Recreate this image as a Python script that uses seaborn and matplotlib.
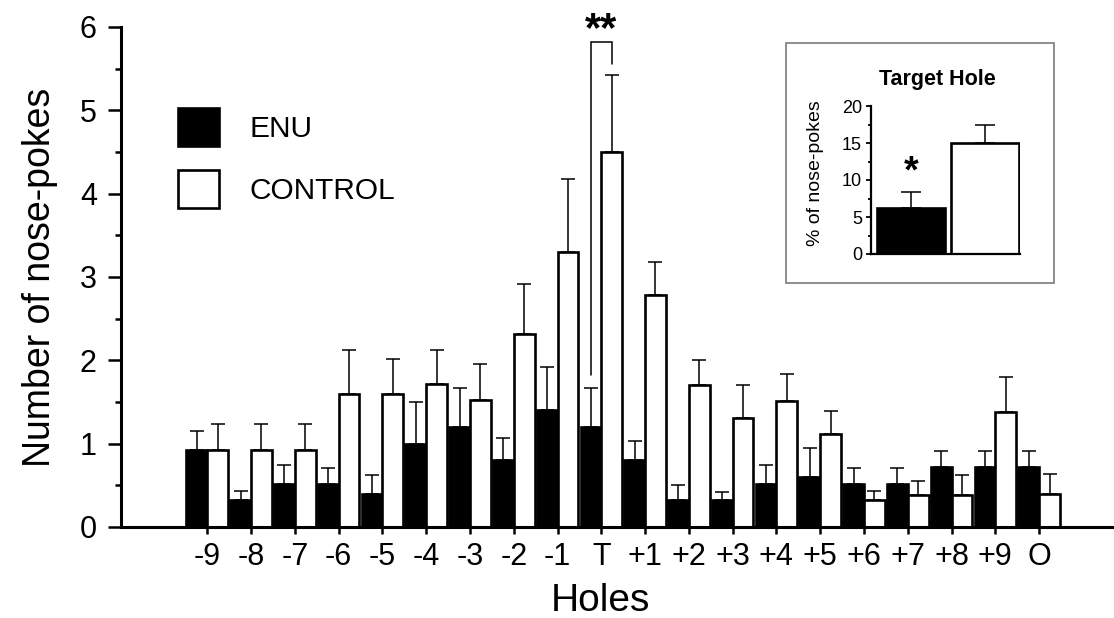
import numpy as np
import pandas as pd
import matplotlib
matplotlib.use("Agg")
import matplotlib.pyplot as plt
from matplotlib.patches import Patch, Rectangle
from matplotlib.ticker import MultipleLocator
import seaborn as sns

# ---------------- data ----------------
holes = ["-9", "-8", "-7", "-6", "-5", "-4", "-3", "-2", "-1", "T",
         "+1", "+2", "+3", "+4", "+5", "+6", "+7", "+8", "+9", "O"]
enu_mean = [0.92, 0.32, 0.52, 0.52, 0.40, 1.00, 1.20, 0.80, 1.40, 1.20,
            0.80, 0.32, 0.32, 0.52, 0.60, 0.52, 0.52, 0.72, 0.72, 0.72]
enu_sem = [0.23, 0.11, 0.22, 0.19, 0.22, 0.50, 0.47, 0.27, 0.52, 0.47,
           0.23, 0.18, 0.10, 0.22, 0.35, 0.19, 0.19, 0.19, 0.19, 0.19]
ctrl_mean = [0.92, 0.92, 0.92, 1.60, 1.60, 1.72, 1.52, 2.32, 3.30, 4.50,
             2.79, 1.71, 1.31, 1.51, 1.12, 0.32, 0.38, 0.38, 1.38, 0.40]
ctrl_sem = [0.32, 0.32, 0.32, 0.52, 0.42, 0.40, 0.44, 0.60, 0.88, 0.92,
            0.39, 0.29, 0.40, 0.33, 0.27, 0.11, 0.17, 0.24, 0.42, 0.24]
groups = ["ENU", "CONTROL"]

inset_mean = [6.2, 15.0]
inset_sem = [2.2, 2.5]

df = pd.DataFrame({
    "hole": holes * 2,
    "group": ["ENU"] * len(holes) + ["CONTROL"] * len(holes),
    "value": enu_mean + ctrl_mean,
})
df_in = pd.DataFrame({"group": groups, "value": inset_mean})

# ---------------- style ----------------
sns.set_theme(style="ticks")
plt.rcParams["font.family"] = ["Liberation Sans", "DejaVu Sans"]
plt.rcParams["text.color"] = "black"
plt.rcParams["axes.labelcolor"] = "black"
plt.rcParams["axes.linewidth"] = 2.0
palette = {"ENU": "black", "CONTROL": "white"}

fig = plt.figure(figsize=(11.14, 6.18), dpi=100)
W, H = 1114, 618
ax = fig.add_axes([121 / W, 1 - 527 / H, 1 - 121 / W, (527 - 27) / H])

sns.barplot(data=df, x="hole", y="value", hue="group", order=holes,
            hue_order=groups, palette=palette, edgecolor="black",
            linewidth=1.9, width=0.95, errorbar=None, legend=False, ax=ax)

centers = {}
for cont, sems, g in zip(ax.containers, [enu_sem, ctrl_sem], groups):
    xs = [b.get_x() + b.get_width() / 2 for b in cont]
    ys = [b.get_height() for b in cont]
    centers[g] = xs
    ax.errorbar(xs, ys, yerr=[np.zeros(len(sems)), sems], fmt="none",
                ecolor="black", elinewidth=1.1, capsize=4.7, capthick=1.1,
                zorder=1)

ax.set_xlim(-1.97, 20.71)
ax.set_ylim(0, 6)
ax.yaxis.set_major_locator(MultipleLocator(1))
ax.yaxis.set_minor_locator(MultipleLocator(0.5))
ax.tick_params(axis="y", which="major", length=9.4, width=1.8,
               labelsize=22, pad=8, direction="out", colors="black")
ax.tick_params(axis="y", which="minor", length=4.3, width=1.8,
               direction="out", colors="black")
ax.tick_params(axis="x", which="major", length=5, width=1.8,
               labelsize=22, pad=6, direction="out", colors="black")
for s in ["top", "right"]:
    ax.spines[s].set_visible(False)
for s in ["left", "bottom"]:
    ax.spines[s].set_linewidth(2.2)
    ax.spines[s].set_color("black")

ax.set_xlabel("Holes", fontsize=28, color="black")
ax.set_ylabel("Number of nose-pokes", fontsize=27, color="black")
ax.xaxis.set_label_coords((600 - 121) / 993, -(601 - 527) / 500)
ax.xaxis.label.set_va("center")
ax.yaxis.set_label_coords(-(121 - 40) / 993, 0.5)
ax.yaxis.label.set_va("center")

# significance bracket at target hole
ti = holes.index("T")
xl, xr = centers["ENU"][ti], centers["CONTROL"][ti]
ax.plot([xl, xl, xr, xr], [1.82, 5.82, 5.82, 5.56], color="black",
        lw=1.1, clip_on=False, solid_joinstyle="miter")
ax.text((xl + xr) / 2, 5.96, "**", ha="center", va="center",
        fontsize=30, fontweight="bold", color="black")

# legend
handles = [Patch(facecolor=palette[g], edgecolor="black", linewidth=1.9,
                 label=g) for g in groups]
ax.legend(handles=handles, loc="upper left",
          bbox_to_anchor=(178 / W, 1 - 108 / H),
          bbox_transform=fig.transFigure, frameon=False, fontsize=21.5,
          labelcolor="black",
          handlelength=1.36, handleheight=1.58, labelspacing=0.82,
          handletextpad=1.05, borderpad=0, borderaxespad=0)

# ---------------- inset ----------------
fig.patches.append(Rectangle((786 / W, 1 - 283 / H), (1054 - 786) / W,
                             (283 - 43) / H, transform=fig.transFigure,
                             fill=False, edgecolor="#7a7a7a", lw=1.2))
axi = fig.add_axes([871 / W, 1 - 254 / H, (1020 - 871) / W, (254 - 106) / H])
sns.barplot(data=df_in, x="group", y="value", hue="group", order=groups,
            hue_order=groups, palette=palette, edgecolor="black",
            linewidth=1.9, width=0.92, errorbar=None, legend=False, ax=axi)
ic = []
for cont, s in zip(axi.containers, inset_sem):
    for b in cont:
        xc = b.get_x() + b.get_width() / 2
        ic.append(xc)
        axi.errorbar([xc], [b.get_height()], yerr=[[0], [s]], fmt="none",
                     ecolor="black", elinewidth=1.1, capsize=7.5,
                     capthick=1.1, zorder=1)
axi.set_xlim(-0.54, 1.47)
axi.set_ylim(0, 20)
axi.yaxis.set_major_locator(MultipleLocator(5))
axi.yaxis.set_minor_locator(MultipleLocator(2.5))
axi.tick_params(axis="y", which="major", length=3.5, width=1.3,
                labelsize=13, pad=3, colors="black")
axi.tick_params(axis="y", which="minor", length=2, width=1.3, colors="black")
axi.tick_params(axis="x", length=0, labelbottom=False)
axi.set_xlabel("")
axi.set_ylabel("")
for s in ["top", "right"]:
    axi.spines[s].set_visible(False)
for s in ["left", "bottom"]:
    axi.spines[s].set_linewidth(1.6)
    axi.spines[s].set_color("black")
axi.set_facecolor("none")
axi.text(ic[0], 11.0, "*", ha="center", va="center", fontsize=27,
         fontweight="bold", color="black")
fig.text(937 / W, 1 - 80 / H, "Target Hole", ha="center", va="center",
         fontsize=15.5, fontweight="bold", color="black")
fig.text(815 / W, 1 - 173 / H, "% of nose-pokes", ha="center", va="center",
         rotation=90, fontsize=14, color="black")

fig.savefig("out.png", dpi=100)
